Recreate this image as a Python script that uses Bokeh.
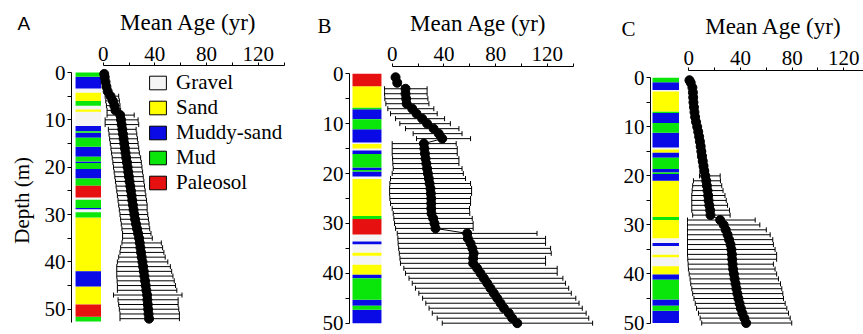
import math

from bokeh.plotting import figure
from bokeh.layouts import row
from bokeh.models import (ColumnDataSource, Whisker, TeeHead, FixedTicker, Range1d,
                          Label, Legend, LegendItem)
from bokeh.embed import file_html
from bokeh.resources import INLINE

# ---------------- data ----------------
LITHOLOGIES = ["Gravel", "Sand", "Muddy-sand", "Mud", "Paleosol"]
LITHO_COLORS = {"Gravel": "#f4f4f4", "Sand": "#ffff00", "Muddy-sand": "#0a0ae6",
                "Mud": "#0ae60a", "Paleosol": "#e61010"}

# Core A
a_depth = [0.3, 1, 2, 3, 4, 5, 6, 7, 8, 9, 10, 11, 12, 13, 14, 15, 16, 17, 18, 19, 20,
           21, 22, 23, 24, 25, 26, 27, 28, 29, 30, 31, 32, 33, 34, 35, 36, 37, 38, 39, 40,
           41, 42, 43, 44, 45, 46, 47, 48, 49, 50, 51, 52]
a_mean = [0.8, 1.2, 1.8, 2.5, 3.5, 5.7, 7.5, 8.6, 9.5, 13.2, 13.8, 14.3, 14.8, 15.3, 15.8,
          16.3, 16.8, 17.3, 17.8, 18.4, 18.9, 19.4, 19.9, 20.4, 21.0, 21.5, 22.0, 22.5, 23.0,
          23.5, 24.1, 24.7, 25.4, 26.2, 27.0, 27.8, 28.3, 28.8, 29.3, 29.8, 30.4, 30.9, 31.4,
          31.9, 32.4, 32.9, 33.4, 34.0, 34.2, 34.5, 34.8, 35.1, 35.5]
a_lo = [0.2, 0.4, 0.8, 1.3, 2.0, 1.5, 2.0, 2.5, 3.0, 3.0, 1.5, 1.5, 4.0, 4.5, 5.0, 5.5, 6.0,
        6.5, 7.0, 7.5, 8.0, 8.5, 9.0, 9.5, 10.0, 10.5, 11.0, 11.5, 12.0, 12.5, 13.0, 13.5,
        14.0, 14.5, 15.0, 15.0, 14.5, 13.5, 13.0, 12.0, 11.0, 10.5, 10.5, 10.5, 10.8, 11.0,
        11.0, 8.0, 11.5, 12.0, 12.5, 13.0, 13.0]
a_hi = [1.6, 2.2, 2.8, 3.6, 5.0, 12.0, 12.5, 13.0, 13.5, 24.0, 27.0, 27.5, 25.5, 26.0, 26.5,
        27.0, 27.5, 28.0, 29.0, 29.5, 30.0, 30.5, 31.0, 31.5, 32.0, 32.5, 33.0, 33.5, 34.0,
        34.0, 34.5, 35.0, 35.5, 36.0, 37.0, 38.0, 45.0, 46.0, 47.0, 48.0, 50.0, 52.0, 53.0,
        54.0, 55.0, 56.0, 57.0, 61.0, 58.0, 58.0, 58.5, 59.0, 59.0]
a_layer_top = [0, 0.9, 3.4, 4.3, 6.0, 7.0, 7.8, 8.3, 11.3, 12.4, 12.7, 13.8, 15.7, 17.8,
               18.8, 19.1, 20.4, 22.4, 23.9, 26.4, 26.9, 28.6, 28.9, 29.5, 30.6, 42.0, 45.2,
               49.0, 51.6]
a_layer_base = [0.9, 3.4, 4.3, 6.0, 7.0, 7.8, 8.3, 11.3, 12.4, 12.7, 13.8, 15.7, 17.8, 18.8,
                19.1, 20.4, 22.4, 23.9, 26.4, 26.9, 28.6, 28.9, 29.5, 30.6, 42.0, 45.2, 49.0,
                51.6, 52.6]
a_layer_type = ["Mud", "Muddy-sand", "Gravel", "Sand", "Mud", "Gravel", "Sand", "Gravel",
                "Muddy-sand", "Mud", "Muddy-sand", "Mud", "Muddy-sand", "Mud", "Muddy-sand",
                "Mud", "Muddy-sand", "Mud", "Paleosol", "Gravel", "Mud", "Muddy-sand",
                "Gravel", "Mud", "Sand", "Muddy-sand", "Sand", "Paleosol", "Mud"]

# Core B
b_depth = [0.7, 1.8, 3, 4, 5, 6, 7, 8, 9, 10, 11, 12, 13, 14, 15, 16, 17, 18, 19, 20, 21,
           22, 23, 24, 25, 26, 27, 28, 29, 30, 31, 32, 33, 34, 35, 36, 37, 38, 39, 40, 41,
           42, 43, 44, 45, 46, 47, 48, 49, 50]
b_mean = [2.6, 3.9, 10.3, 10.3, 10.8, 11.2, 15.5, 18.8, 23.2, 27.0, 32.0, 36.0, 38.7, 24.5,
          24.9, 25.3, 25.8, 26.4, 27.0, 27.6, 28.3, 28.9, 29.6, 29.9, 30.2, 30.2, 30.2, 30.4,
          31.7, 32.7, 33.5, 58.0, 58.5, 60.6, 62.0, 63.0, 62.6, 62.6, 65.7, 68.3, 70.9, 73.5,
          76.0, 78.6, 81.2, 83.8, 86.4, 90.2, 92.8, 96.7]
b_lo = [1.5, 2.5, -5.9, -5.9, -5.7, -4.9, -3.4, -1.3, 2.6, 5.9, 10.3, 16.2, 18.8, 0.0, 0.0,
        0.0, 0.3, 0.5, 0.8, 0.0, -1.3, -1.8, -2.0, -2.0, -1.8, -1.3, 0.0, 0.8, 1.3, 1.8, 2.6,
        3.9, 4.4, 4.6, 5.0, 5.5, 6.0, 6.4, 9.0, 10.3, 13.0, 15.5, 18.0, 20.6, 23.5, 26.0,
        28.5, 31.0, 34.8, 38.7]
b_hi = [3.5, 5.0, 27.0, 27.0, 27.6, 28.4, 32.2, 34.8, 40.5, 45.0, 51.6, 54.0, 60.6, 49.5,
        50.3, 50.3, 51.6, 51.6, 54.0, 55.0, 56.7, 60.6, 61.4, 61.4, 60.6, 60.6, 59.8, 60.0,
        61.9, 62.6, 62.6, 112.0, 118.6, 118.6, 122.5, 123.0, 118.6, 118.6, 127.6, 127.6,
        132.0, 134.0, 136.5, 138.5, 142.0, 144.5, 147.0, 150.0, 152.0, 155.0]
b_layer_top = [0, 2.5, 6.8, 7.1, 9.1, 11.1, 13.8, 14.1, 15.0, 15.4, 16.1, 18.8, 19.3, 19.6,
               20.6, 21.1, 28.5, 29.1, 32.2, 33.6, 34.2, 35.9, 36.5, 38.3, 40.3, 41.0, 45.3,
               46.5, 47.3]
b_layer_base = [2.5, 6.8, 7.1, 9.1, 11.1, 13.8, 14.1, 15.0, 15.4, 16.1, 18.8, 19.3, 19.6,
                20.6, 21.1, 28.5, 29.1, 32.2, 33.6, 34.2, 35.9, 36.5, 38.3, 40.3, 41.0, 45.3,
                46.5, 47.3, 50.0]
b_layer_type = ["Paleosol", "Sand", "Mud", "Muddy-sand", "Mud", "Muddy-sand", "Gravel",
                "Sand", "Gravel", "Muddy-sand", "Mud", "Muddy-sand", "Mud", "Muddy-sand",
                "Gravel", "Sand", "Mud", "Paleosol", "Gravel", "Muddy-sand", "Gravel", "Sand",
                "Gravel", "Sand", "Muddy-sand", "Mud", "Muddy-sand", "Mud", "Muddy-sand"]

# Core C
c_depth = [0.5, 1, 2, 3, 4, 5, 6, 7, 8, 9, 10, 11, 12, 13, 14, 15, 16, 17, 18, 19, 20, 21,
           22, 23, 24, 25, 26, 27, 28, 29, 30, 31, 32, 33, 34, 35, 36, 37, 38, 39, 40, 41,
           42, 43, 44, 45, 46, 47, 48, 49, 50]
c_mean = [0.5, 1.5, 2.8, 3.2, 3.4, 3.6, 4.0, 4.4, 4.9, 5.6, 6.5, 7.3, 8.0, 8.6, 9.2, 9.7,
          10.2, 10.8, 11.4, 12.0, 12.8, 13.5, 14.0, 14.5, 15.0, 15.3, 15.9, 16.5, 16.8, 24.3,
          27.0, 28.6, 30.0, 31.2, 32.3, 33.0, 33.4, 33.6, 33.9, 34.3, 34.9, 35.5, 36.2, 36.9,
          37.6, 38.4, 39.3, 40.3, 41.5, 43.0, 44.4]
c_lo = [0.0, 0.8, 2.0, 2.4, 2.6, 2.8, 3.2, 3.5, 4.0, 4.6, 5.4, 6.0, 6.6, 6.0, 6.4, 6.8, 7.2,
        7.8, 8.4, 8.8, 8.3, 3.6, 3.0, 2.6, 2.3, 2.3, 2.3, 2.3, 3.0, -1.0, -1.0, -1.0, -1.0,
        -1.0, -1.0, -1.0, -1.0, -0.8, -0.5, -0.3, 0.3, 1.0, 1.5, 2.3, 3.0, 4.0, 5.0, 6.0,
        7.5, 8.8, 10.0]
c_hi = [1.2, 2.2, 3.6, 4.0, 4.2, 4.4, 4.8, 5.3, 5.8, 6.6, 7.6, 8.6, 9.4, 11.5, 12.2, 12.6,
        13.2, 13.8, 14.4, 15.0, 24.3, 24.5, 25.5, 26.5, 28.0, 29.0, 30.0, 31.5, 32.0, 51.4,
        55.0, 60.0, 63.0, 65.0, 65.5, 66.8, 68.0, 68.0, 65.5, 66.8, 68.0, 69.4, 71.0, 72.0,
        72.8, 73.3, 74.6, 75.9, 77.2, 78.5, 79.7]
c_layer_top = [0, 0.9, 2.5, 2.8, 6.9, 7.2, 9.2, 11.2, 14.2, 14.6, 15.3, 16.3, 18.6, 19.3,
               19.6, 21.0, 28.4, 29.0, 32.7, 33.7, 34.3, 36.1, 36.6, 38.4, 40.1, 41.2, 45.2,
               46.5, 47.5]
c_layer_base = [0.9, 2.5, 2.8, 6.9, 7.2, 9.2, 11.2, 14.2, 14.6, 15.3, 16.3, 18.6, 19.3,
                19.6, 21.0, 28.4, 29.0, 32.7, 33.7, 34.3, 36.1, 36.6, 38.4, 40.1, 41.2, 45.2,
                46.5, 47.5, 50.0]
c_layer_type = ["Mud", "Muddy-sand", "Gravel", "Sand", "Mud", "Muddy-sand", "Mud",
                "Muddy-sand", "Gravel", "Sand", "Muddy-sand", "Mud", "Muddy-sand", "Mud",
                "Muddy-sand", "Sand", "Mud", "Sand", "Gravel", "Muddy-sand", "Gravel", "Sand",
                "Gravel", "Sand", "Muddy-sand", "Mud", "Muddy-sand", "Mud", "Muddy-sand"]

AGE_TICKS = [0, 40, 80, 120]
AGE_MINOR = [20, 60, 100, 140]
DEPTH_TICKS = [0, 10, 20, 30, 40, 50]
DEPTH_MINOR = [5, 15, 25, 35, 45]

SERIF = "Liberation Serif"


def make_panel(letter, letter_font, letter_size, letter_xy, depth, mean, lo, hi,
               ltop, lbase, ltype, col_x, width, xr, yr, axes_at, depth_bound,
               title_xy, depth_label_xy=None, legend_at=None):
    # the frame spans the whole canvas; axes sit at fixed data positions inside it
    p = figure(width=width, height=334, output_backend="svg", toolbar_location=None,
               title=None, x_axis_location="above", x_range=Range1d(*xr),
               y_range=Range1d(*yr), min_border=0, background_fill_color="white",
               border_fill_color="white")
    p.outline_line_color = None
    p.grid.visible = False

    # lithology column
    for lith in LITHOLOGIES:
        idx = [i for i, t in enumerate(ltype) if t == lith]
        if not idx:
            continue
        p.quad(left=col_x[0], right=col_x[1],
               top=[ltop[i] for i in idx], bottom=[lbase[i] for i in idx],
               fill_color=LITHO_COLORS[lith], line_color=None)

    # mean age with its spread
    src = ColumnDataSource(dict(depth=depth, mean=mean, lo=lo, hi=hi))
    p.add_layout(Whisker(source=src, base="depth", lower="lo", upper="hi",
                         dimension="width", line_color="black", line_width=1,
                         upper_head=TeeHead(size=5, line_color="black", line_width=1),
                         lower_head=TeeHead(size=5, line_color="black", line_width=1)))
    p.line("mean", "depth", source=src, line_color="black", line_width=1)
    p.scatter("mean", "depth", source=src, size=9, color="black")

    xa = p.xaxis[0]
    xa.fixed_location = axes_at[1]
    xa.bounds = (0, 140)
    xa.ticker = FixedTicker(ticks=AGE_TICKS, minor_ticks=AGE_MINOR)
    ya = p.yaxis[0]
    ya.fixed_location = axes_at[0]
    ya.bounds = (0, depth_bound)
    ya.ticker = FixedTicker(ticks=DEPTH_TICKS, minor_ticks=DEPTH_MINOR)
    for ax in (xa, ya):
        ax.axis_line_color = "black"
        ax.major_tick_line_color = "black"
        ax.minor_tick_line_color = "black"
        ax.major_tick_in = 0
        ax.minor_tick_in = 0
        ax.major_label_text_font = SERIF
        ax.major_label_text_font_size = "21px"
        ax.major_label_text_color = "black"
        ax.major_label_standoff = 2
    xa.major_tick_out = 3
    xa.minor_tick_out = 3
    ya.major_tick_out = 4
    ya.minor_tick_out = 4

    p.add_layout(Label(x=title_xy[0], y=title_xy[1], text="Mean Age (yr)",
                       text_font=SERIF, text_font_size="23px", text_color="black",
                       text_align="center", text_baseline="middle"))
    if depth_label_xy is not None:
        p.add_layout(Label(x=depth_label_xy[0], y=depth_label_xy[1], text="Depth (m)",
                           angle=math.pi / 2, text_font=SERIF, text_font_size="21px",
                           text_color="black", text_align="center",
                           text_baseline="middle"))
    p.add_layout(Label(x=letter_xy[0], y=letter_xy[1], text=letter,
                       text_font=letter_font, text_font_size=letter_size,
                       text_color="black", text_align="left",
                       text_baseline="middle"))

    if legend_at is not None:
        items = []
        for lith in LITHOLOGIES:
            r = p.quad(left=[float("nan")], right=[float("nan")], top=[float("nan")],
                       bottom=[float("nan")], fill_color=LITHO_COLORS[lith],
                       line_color="black", line_width=1)
            items.append(LegendItem(label=lith, renderers=[r]))
        leg = Legend(items=items, location=legend_at, glyph_width=21, glyph_height=17,
                     label_standoff=8, spacing=0, padding=0, margin=0,
                     border_line_color=None, background_fill_alpha=0,
                     label_text_font=SERIF, label_text_font_size="21px",
                     label_text_color="black")
        p.add_layout(leg)
    return p


pA = make_panel("A", "Liberation Sans", "19px", (-66.3, -10.3), a_depth, a_mean, a_lo, a_hi,
                a_layer_top, a_layer_base, a_layer_type, (-21.4, -1.7),
                290, (-79.5, 145.0), (55.34, -15.21), (-24.54, -1.478), 52.7,
                title_xy=(66.0, -10.46), depth_label_xy=(-62.5, 27.0),
                legend_at=(147, 139))
pB = make_panel("B", SERIF, "21px", (-57.8, -9.68), b_depth, b_mean, b_lo, b_hi,
                b_layer_top, b_layer_base, b_layer_type, (-30.7, -8.3),
                305, (-78.65, 157.23), (52.27, -14.695), (-33.02, -1.464), 50,
                title_xy=(66.7, -10.18))
pC = make_panel("C", SERIF, "21px", (-52.1, -9.85), c_depth, c_mean, c_lo, c_hi,
                c_layer_top, c_layer_base, c_layer_type, (-28.1, -7.6),
                268, (-72.23, 135.25), (52.34, -15.76), (-29.65, -1.489), 50,
                title_xy=(65.6, -10.50))

layout = row(pA, pB, pC)
open("out.html", "w").write(file_html(layout, INLINE))
